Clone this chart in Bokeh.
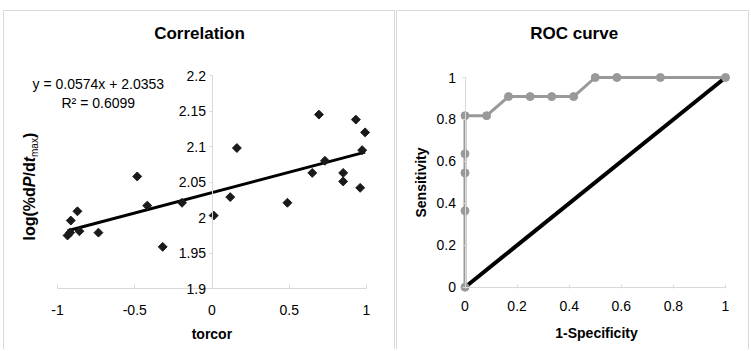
import math
from bokeh.plotting import figure
from bokeh.layouts import row
from bokeh.models import Range1d, FixedTicker, Label
from bokeh.embed import file_html
from bokeh.resources import INLINE

# ---------------- data: left panel (Correlation) ----------------
torcor = [-0.935, -0.918, -0.914, -0.871, -0.858, -0.735, -0.484, -0.419, -0.319,
          -0.194, 0.011, 0.118, 0.161, 0.488, 0.649, 0.692, 0.731, 0.849, 0.849,
          0.931, 0.959, 0.972, 0.991]
log_dpdt = [1.975, 1.979, 1.996, 2.009, 1.981, 1.979, 2.058, 2.017, 1.959,
            2.021, 2.003, 2.029, 2.098, 2.021, 2.063, 2.145, 2.080, 2.063, 2.051,
            2.138, 2.042, 2.095, 2.120]
trend_slope = 0.0574
trend_intercept = 2.0353
equation_text = "y = 0.0574x + 2.0353"
r2_text = "R\u00b2 = 0.6099"
corr_x_ticks = [-1, -0.5, 0, 0.5, 1]
corr_x_labels = ["-1", "-0.5", "0", "0.5", "1"]
corr_y_ticks = [1.9, 1.95, 2.0, 2.05, 2.1, 2.15, 2.2]
corr_y_labels = ["1.9", "1.95", "2", "2.05", "2.1", "2.15", "2.2"]

# ---------------- data: right panel (ROC curve) ----------------
roc_fpr = [0, 0, 0, 0, 0, 0.083, 0.167, 0.25, 0.333, 0.417, 0.5, 0.583, 0.75, 1]
roc_tpr = [0, 0.364, 0.545, 0.636, 0.818, 0.818, 0.909, 0.909, 0.909, 0.909, 1, 1, 1, 1]
chance_x = [0, 1]
chance_y = [0, 1]
roc_ticks = [0, 0.2, 0.4, 0.6, 0.8, 1]
roc_labels = ["0", "0.2", "0.4", "0.6", "0.8", "1"]

FONT = "Liberation Sans"
AXIS_GRAY = "#d9d9d9"
PANEL_SHADOW = "-1px -1px 0 0 #d9d9d9, 1px -1px 0 0 #d9d9d9"
H = 339


def style_axis(ax, ticks, labels, loc, standoff, tick_in, tick_out):
    ax.ticker = FixedTicker(ticks=ticks)
    ax.major_label_overrides = {t: l for t, l in zip(ticks, labels)}
    ax.fixed_location = loc
    ax.bounds = (ticks[0], ticks[-1])
    ax.axis_line_color = AXIS_GRAY
    ax.axis_line_width = 1
    ax.major_tick_line_color = AXIS_GRAY
    ax.major_tick_in = tick_in
    ax.major_tick_out = tick_out
    ax.minor_tick_line_color = None
    ax.major_label_standoff = standoff
    ax.major_label_text_font = FONT
    ax.major_label_text_font_size = "14px"
    ax.major_label_text_color = "#000000"


def add_text(p, x, y, text, size, style="normal", align="center", baseline="middle", angle=0.0):
    p.add_layout(Label(x=x, y=y, x_units="screen", y_units="screen", text=text,
                       text_font=FONT, text_font_size=f"{size}px", text_font_style=style,
                       text_align=align, text_baseline=baseline, angle=angle,
                       text_color="#000000"))


def make_fig(w, xr, yr):
    p = figure(width=w, height=H, x_range=xr, y_range=yr,
               output_backend="svg", toolbar_location=None,
               min_border=0, min_border_left=0, min_border_right=0,
               min_border_top=0, min_border_bottom=0)
    p.grid.visible = False
    p.outline_line_color = None
    p.background_fill_color = "white"
    p.border_fill_color = "white"
    p.styles = {"box-shadow": PANEL_SHADOW}
    return p


# ================= left panel =================
# canvas origin in page px: (4, 11); width 390
W1 = 390
ox1, oy1 = 4, 11
xu1, yu1 = 154.5, 711.0          # px per data unit
x_m1_px, y_22_px = 57 - ox1, 75 - oy1   # canvas px of x=-1 and y=2.2
p1 = make_fig(W1,
              Range1d(-1 - x_m1_px / xu1, -1 + (W1 - x_m1_px) / xu1),
              Range1d(2.2 - (H - y_22_px) / yu1, 2.2 + y_22_px / yu1))
style_axis(p1.xaxis[0], corr_x_ticks, corr_x_labels, corr_y_ticks[0], 16, 4, 0)
style_axis(p1.yaxis[0], corr_y_ticks, corr_y_labels, 0, 3, 0, 3)

trend_x = [min(torcor), max(torcor)]
trend_y = [trend_intercept + trend_slope * v for v in trend_x]
p1.line(trend_x, trend_y, line_color="#000000", line_width=3)
p1.scatter(torcor, log_dpdt, marker="square", angle=math.pi / 4, size=6.3,
           fill_color="#1a1a1a", line_color="#1a1a1a")


def s1(xr, yr):
    return xr - ox1, H - (yr - oy1)


tx, ty = s1(199, 33)
add_text(p1, tx, ty, "Correlation", 17, "bold")
tx, ty = s1(32, 83)
add_text(p1, tx, ty, equation_text, 14, align="left")
tx, ty = s1(61, 102)
add_text(p1, tx, ty, r2_text, 14, align="left")
tx, ty = s1(211.4, 333)
add_text(p1, tx, ty, "torcor", 14, "bold")

# rotated y title: log(%dP/dt_max) with italic P, t and subscript "max"
yx, yy = s1(29, 240)
pieces = [("log(%d", "bold", 16, 0, 53.3), ("P", "bold italic", 16, 0, 10.7),
          ("/d", "bold", 16, 0, 14.2), ("t", "bold italic", 16, 0, 5.3),
          ("max", "normal", 10, 4.5, 18.9), (")", "bold", 16, 0, 5.3)]
cur = yy
for txt, st, sz, dx, w in pieces:
    add_text(p1, yx + dx, cur, txt, sz, st, align="left", angle=math.pi / 2)
    cur += w

# ================= right panel =================
W2 = 351
ox2, oy2 = 397, 11
xu2, yu2 = 260.5, 209.7
x_0_px, y_1_px = 464.5 - ox2, 77 - oy2
p2 = make_fig(W2,
              Range1d(-x_0_px / xu2, (W2 - x_0_px) / xu2),
              Range1d(1 - (H - y_1_px) / yu2, 1 + y_1_px / yu2))
style_axis(p2.xaxis[0], roc_ticks, roc_labels, 0, 13, 3, 1)
style_axis(p2.yaxis[0], roc_ticks, roc_labels, 0, 6, 0, 3)

p2.line(chance_x, chance_y, line_color="#000000", line_width=4)
p2.line(roc_fpr, roc_tpr, line_color="#999999", line_width=3)
p2.scatter(roc_fpr, roc_tpr, marker="circle", size=8, fill_color="#999999",
           line_color="#999999")


def s2(xr, yr):
    return xr - ox2, H - (yr - oy2)


tx, ty = s2(573.7, 33)
add_text(p2, tx, ty, "ROC curve", 17, "bold")
tx, ty = s2(596, 332.7)
add_text(p2, tx, ty, "1-Specificity", 14, "bold")
tx, ty = s2(420, 182)
add_text(p2, tx, ty, "Sensitivity", 14, "bold", angle=math.pi / 2)

layout = row(p1, p2, spacing=3, margin=(11, 0, 0, 4))
open("out.html", "w").write(file_html(layout, INLINE))
